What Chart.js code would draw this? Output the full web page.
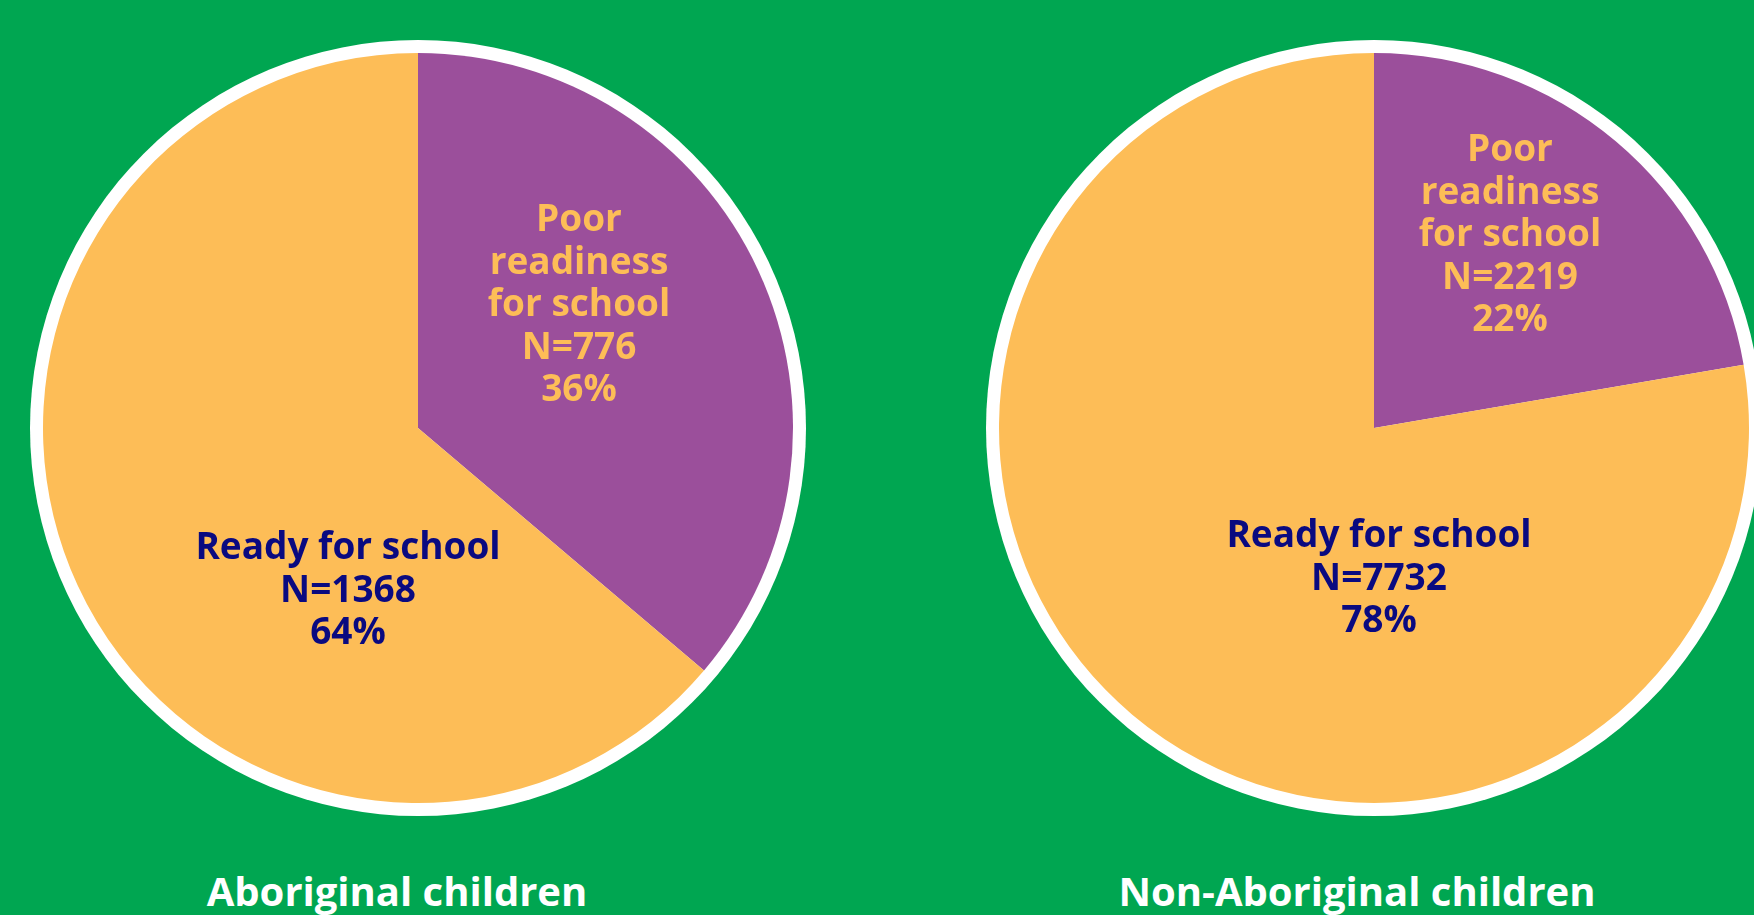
<!DOCTYPE html>
<html>
<head>
<meta charset="utf-8">
<script src="https://cdn.jsdelivr.net/npm/chart.js@4.4.1/dist/chart.umd.min.js"></script>
<style>
  html, body { margin: 0; padding: 0; width: 1754px; height: 915px; overflow: hidden; background: #00A651; }
  .pie { position: absolute; width: 776px; height: 776px; }
  .lbl { position: absolute; font-family: "Open Sans", sans-serif; font-weight: 700; font-size: 37px;
         line-height: 42.5px; text-align: center; white-space: nowrap; transform: translateX(-50%); }
  .title { position: absolute; font-family: "Open Sans", sans-serif; font-weight: 700; font-size: 40px;
           line-height: 40px; color: #ffffff; white-space: nowrap; transform: translateX(-50%); }
</style>
</head>
<body>
<div class="pie" style="left:30px;top:40px;"><canvas id="c1" width="776" height="776"></canvas></div>
<div class="pie" style="left:986px;top:40px;"><canvas id="c2" width="776" height="776"></canvas></div>

<div id="l1p" class="lbl" style="left:579px;top:196px;color:#FDBD57;"></div>
<div id="l1r" class="lbl" style="left:348px;top:524px;color:#0A0A80;"></div>
<div id="l2p" class="lbl" style="left:1510px;top:126px;color:#FDBD57;"></div>
<div id="l2r" class="lbl" style="left:1379px;top:512px;color:#0A0A80;"></div>

<div id="t1" class="title" style="left:397px;top:871px;"></div>
<div id="t2" class="title" style="left:1357px;top:871px;"></div>

<script>
// ---- data ----
const categories = ["Poor readiness for school", "Ready for school"];
const groupTitles = ["Aboriginal children", "Non-Aboriginal children"];
const aboriginalValues = [776, 1368];
const nonAboriginalValues = [2219, 7732];
// label line breaks for the category names as printed
const poorLabelLines = ["Poor", "readiness", "for school"];
const readyLabelLines = ["Ready for school"];

const sliceColors = ["#9B4F9B", "#FDBD57"];

const ringPlugin = {
  id: 'whiteRing',
  beforeDatasetsDraw(chart) {
    const meta = chart.getDatasetMeta(0);
    if (!meta.data.length) return;
    const arc = meta.data[0];
    const ctx = chart.ctx;
    ctx.save();
    ctx.beginPath();
    ctx.arc(arc.x, arc.y, arc.outerRadius + 13, 0, Math.PI * 2);
    ctx.fillStyle = '#ffffff';
    ctx.fill();
    ctx.restore();
  }
};

function makePie(id, values) {
  new Chart(document.getElementById(id), {
    type: 'pie',
    data: {
      labels: categories,
      datasets: [{
        data: values,
        backgroundColor: sliceColors,
        borderWidth: 0,
        hoverOffset: 0,
        offset: 0
      }]
    },
    options: {
      responsive: false,
      animation: false,
      events: [],
      layout: { padding: 13 },
      plugins: { legend: { display: false }, tooltip: { enabled: false } }
    },
    plugins: [ringPlugin]
  });
}

makePie('c1', aboriginalValues);
makePie('c2', nonAboriginalValues);

function pct(v, arr) {
  const t = arr.reduce((a, b) => a + b, 0);
  return Math.round(v / t * 100) + '%';
}
function setLabel(id, lines, v, arr) {
  const el = document.getElementById(id);
  const all = lines.concat(['N=' + v, pct(v, arr)]);
  all.forEach((s, i) => {
    if (i) el.appendChild(document.createElement('br'));
    el.appendChild(document.createTextNode(s));
  });
}
setLabel('l1p', poorLabelLines, aboriginalValues[0], aboriginalValues);
setLabel('l1r', readyLabelLines, aboriginalValues[1], aboriginalValues);
setLabel('l2p', poorLabelLines, nonAboriginalValues[0], nonAboriginalValues);
setLabel('l2r', readyLabelLines, nonAboriginalValues[1], nonAboriginalValues);
document.getElementById('t1').textContent = groupTitles[0];
document.getElementById('t2').textContent = groupTitles[1];
</script>
</body>
</html>
